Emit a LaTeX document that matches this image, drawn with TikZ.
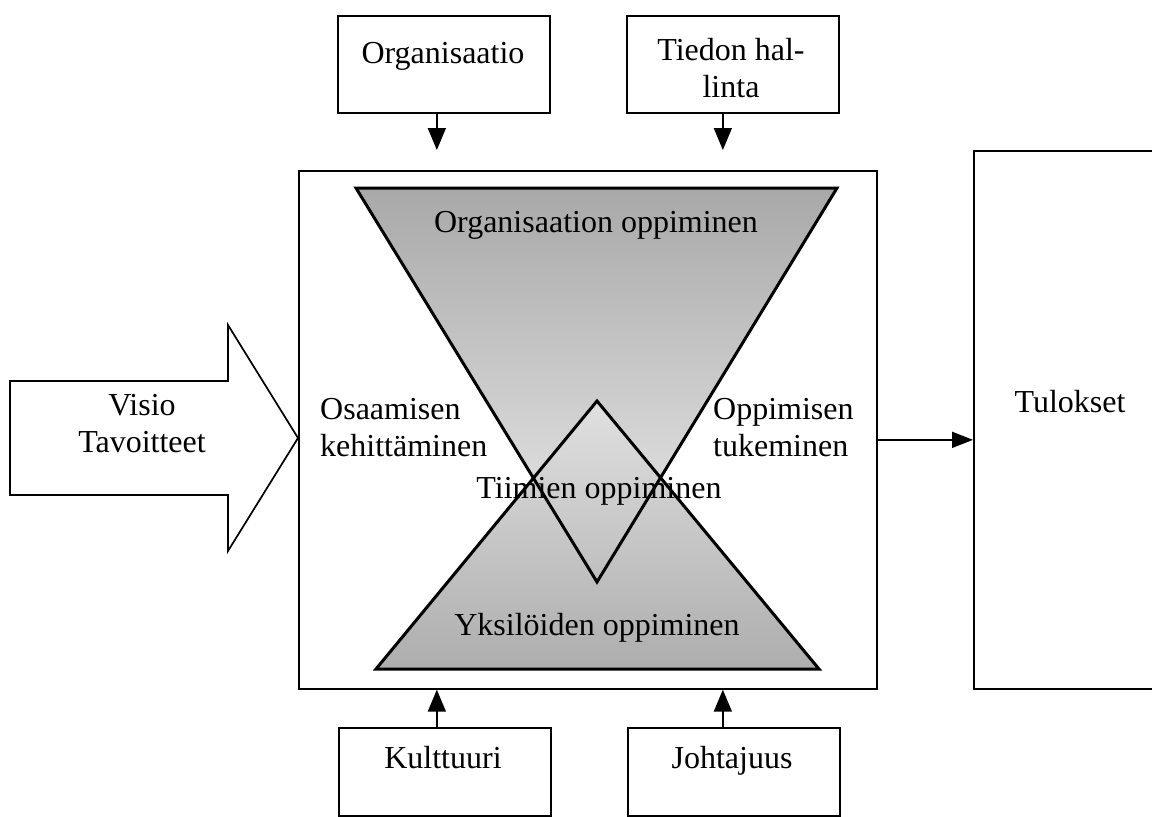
\documentclass[tikz,border=0pt]{standalone}
\usepackage{fontspec}
\setmainfont{Liberation Serif}
\usetikzlibrary{arrows.meta}
\begin{document}
\begin{tikzpicture}[x=1pt,y=-1pt]
\tikzset{
  box/.style={draw, line width=1.7pt, inner sep=0pt, anchor=north west},
  txt/.style={inner sep=0pt, font=\fontsize{32}{37}\selectfont},
  arr/.style={line width=1.7pt, -{Triangle[width=18pt,length=22pt]}},
  hg/.style={line width=3pt, line join=miter},
}
\useasboundingbox (0,0) rectangle (1152,817);
\fill[white] (0,0) rectangle (1152,817);

% main box
\node[box, minimum width=578pt, minimum height=518pt] (main) at (298,170) {};

% hourglass shading
\shade[top color=black!34, bottom color=black!7] (356,188) -- (837,188) -- (597,582) -- cycle;
\shade[top color=black!12, bottom color=black!32] (376,669) -- (819,669) -- (597,401) -- cycle;
\draw[hg] (356,188) -- (837,188) -- (597,582) -- cycle;
\draw[hg] (376,669) -- (819,669) -- (597,401) -- cycle;

% boxes
\node[box, minimum width=212pt, minimum height=97pt] (org) at (337,15) {};
\node[box, minimum width=212pt, minimum height=97pt] (tied) at (626,15) {};
\node[box, minimum width=212pt, minimum height=88pt] (kult) at (338,727) {};
\node[box, minimum width=212pt, minimum height=88pt] (joht) at (627,727) {};
\node[box, minimum width=181pt, minimum height=538pt] (tul) at (973,150) {};

% big input arrow
\draw[line width=1.7pt, line join=miter] (10,381) -- (228,381) -- (228,325) -- (298,438)
  -- (228,551) -- (228,495) -- (10,495) -- cycle;

% texts
\node[txt, anchor=base] (orgt) at (443,63) {Organisaatio};
\node[txt, align=center] (tiedt) at (731,68) {Tiedon hal-\\linta};
\node[txt, anchor=base] (kultt) at (443,768) {Kulttuuri};
\node[txt, anchor=base] (johtt) at (732,768) {Johtajuus};
\node[txt, anchor=base] (tult) at (1070,412) {Tulokset};
\node[txt, align=center] (vis) at (142,424) {Visio\\Tavoitteet};
\node[txt, align=left, anchor=west] (osa) at (320,428) {Osaamisen\\kehittäminen};
\node[txt, align=left, anchor=west] (opp) at (713,428) {Oppimisen\\tukeminen};
\node[txt, anchor=base] (orgopp) at (596,232) {Organisaation oppiminen};
\node[txt, anchor=base] (yks) at (597,635) {Yksilöiden oppiminen};
\node[txt, anchor=base] (tiim) at (599,498) {Tiimien oppiminen};

% connectors
\draw[arr, shorten >=20pt] ([xshift=-7pt]org.south) -- ([xshift=-7pt]org.south |- main.north);
\draw[arr, shorten >=20pt] ([xshift=-10pt]tied.south) -- ([xshift=-10pt]tied.south |- main.north);
\draw[arr] ([xshift=-8pt]kult.north) -- ([xshift=-8pt]kult.north |- main.south);
\draw[arr] ([xshift=-11pt]joht.north) -- ([xshift=-11pt]joht.north |- main.south);
\draw[line width=1.7pt, -{Triangle[width=16pt,length=21pt]}] ([yshift=-10pt]main.east) -- ([yshift=-10pt]main.east -| tul.west);
\end{tikzpicture}
\end{document}
